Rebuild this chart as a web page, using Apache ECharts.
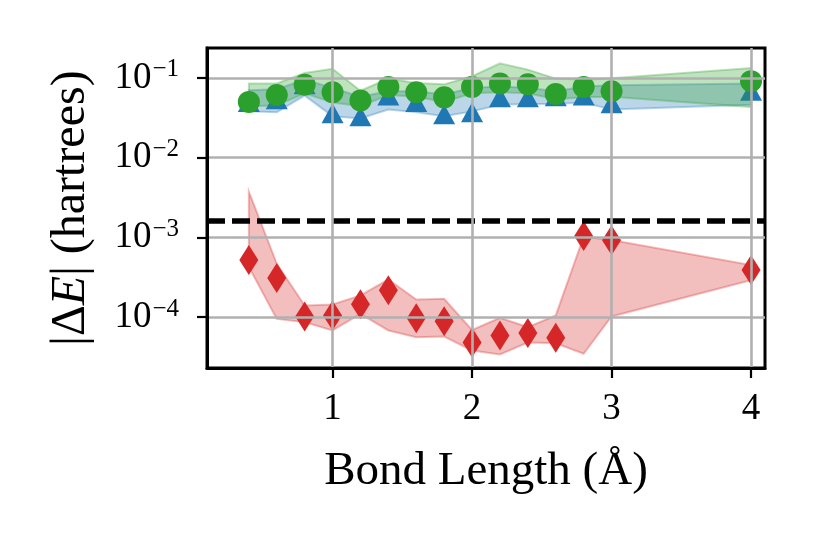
<!DOCTYPE html>
<html>
<head>
<meta charset="utf-8">
<script src="https://cdn.jsdelivr.net/npm/echarts@6/dist/echarts.min.js"></script>
<style>
html, body { margin: 0; padding: 0; background: #fff; }
#main { width: 822px; height: 543px; }
</style>
</head>
<body>
<div id="main"></div>
<script>
// bond lengths (Å)
var bondLength = [0.4, 0.6, 0.8, 1.0, 1.2, 1.4, 1.6, 1.8, 2.0, 2.2, 2.4, 2.6, 2.8, 3.0, 4.0];

// blue triangles
var blueMean = [0.050, 0.054, 0.083, 0.036, 0.033, 0.060, 0.050, 0.035, 0.037, 0.057, 0.057, 0.059, 0.060, 0.048, 0.069];
var blueHigh = [0.070, 0.072, 0.095, 0.075, 0.058, 0.068, 0.068, 0.062, 0.075, 0.078, 0.075, 0.068, 0.078, 0.081, 0.085];
var blueLow = [0.038, 0.037, 0.060, 0.033, 0.031, 0.040, 0.037, 0.033, 0.038, 0.046, 0.047, 0.047, 0.049, 0.040, 0.046];

// green circles
var greenMean = [0.050, 0.061, 0.082, 0.066, 0.052, 0.077, 0.066, 0.057, 0.077, 0.085, 0.083, 0.063, 0.077, 0.068, 0.091];
var greenHigh = [0.085, 0.085, 0.115, 0.130, 0.069, 0.098, 0.086, 0.083, 0.105, 0.152, 0.127, 0.098, 0.095, 0.099, 0.133];
var greenLow = [0.044, 0.045, 0.064, 0.049, 0.044, 0.061, 0.058, 0.050, 0.064, 0.066, 0.064, 0.054, 0.057, 0.058, 0.043];

// red diamonds
var redMean = [5.2e-4, 3.1e-4, 1.02e-4, 1.05e-4, 1.45e-4, 2.17e-4, 9.7e-5, 8.9e-5, 4.8e-5, 5.9e-5, 6.3e-5, 5.5e-5, 1.04e-3, 9.2e-4, 3.9e-4];
var redHigh = [3.75e-3, 4.7e-4, 1.40e-4, 1.44e-4, 1.87e-4, 2.96e-4, 1.66e-4, 1.70e-4, 6.9e-5, 9.8e-5, 7.5e-5, 1.05e-4, 1.02e-3, 9.25e-4, 4.5e-4];
var redLow = [4.26e-4, 9.5e-5, 8.65e-5, 6.8e-5, 1.1e-4, 6.8e-5, 5.6e-5, 5.7e-5, 3.8e-5, 3.4e-5, 4.8e-5, 4.7e-5, 3.47e-5, 1.02e-4, 2.9e-4];

// chemical accuracy line
var threshold = 1.6e-3;

// axis limits and ticks
var xMin = 0.1, xMax = 4.1;
var yMin = 2.3e-5, yMax = 0.237;
var xTicks = [1, 2, 3, 4];
var yTicks = [1e-4, 1e-3, 1e-2, 1e-1];

var font = 'Liberation Serif';

function points(vals) {
    return bondLength.map(function (x, i) { return [x, vals[i]]; });
}

// shaded band between low and high, drawn as one polygon
function band(low, high, color, z) {
    return {
        type: 'custom',
        z: z,
        silent: true,
        clip: true,
        data: bondLength.map(function (x, i) { return [x, low[i], high[i]]; }),
        encode: { x: 0, y: [1, 2] },
        renderItem: function (params, api) {
            if (params.dataIndex !== 0) return;
            var top = bondLength.map(function (x, i) { return api.coord([x, high[i]]); });
            var bot = bondLength.map(function (x, i) { return api.coord([x, low[i]]); }).reverse();
            return {
                type: 'polygon',
                shape: { points: top.concat(bot) },
                style: { fill: color, stroke: color, lineWidth: 2 }
            };
        }
    };
}

function markers(vals, color, symbol, size, z) {
    return {
        type: 'scatter',
        z: z,
        silent: true,
        symbol: symbol,
        symbolSize: size,
        itemStyle: { color: color, opacity: 1 },
        data: points(vals)
    };
}

var myChart = echarts.init(document.getElementById('main'));
var option = {
    animation: false,
    backgroundColor: '#fff',
    grid: {
        left: 207,
        right: 57,
        top: 48,
        bottom: 175,
        show: true,
        borderColor: '#000',
        borderWidth: 3,
        backgroundColor: 'transparent'
    },
    xAxis: {
        type: 'value',
        min: xMin,
        max: xMax,
        z: 3,
        name: 'Bond Length (Å)',
        nameLocation: 'middle',
        nameGap: 80,
        nameTextStyle: { fontFamily: font, fontSize: 47, color: '#000' },
        axisLine: { show: true, onZero: false, lineStyle: { color: '#000', width: 3 } },
        axisTick: { show: true, length: 10, customValues: xTicks, lineStyle: { color: '#000', width: 2.2 } },
        axisLabel: {
            customValues: xTicks,
            margin: 23,
            fontFamily: font,
            fontSize: 37,
            color: '#000',
            formatter: function (v) { return String(v); }
        },
        splitLine: { show: true, lineStyle: { color: '#b0b0b0', width: 2.6 } }
    },
    yAxis: {
        type: 'log',
        logBase: 10,
        min: yMin,
        max: yMax,
        z: 3,
        name: '|Δ{i|E}| (hartrees)',
        nameLocation: 'middle',
        nameGap: 112,
        nameTextStyle: {
            fontFamily: font,
            fontSize: 48,
            color: '#000',
            rich: {
                i: { fontFamily: font, fontSize: 48, color: '#000', fontStyle: 'italic' }
            }
        },
        axisLine: { show: true, lineStyle: { color: '#000', width: 3 } },
        axisTick: { show: true, length: 10, customValues: yTicks, lineStyle: { color: '#000', width: 2.2 } },
        axisLabel: {
            customValues: yTicks,
            margin: 28,
            formatter: function (v) {
                var e = Math.round(Math.log10(v));
                return '{b|10}{s|' + (e < 0 ? '\u2212' : '') + Math.abs(e) + '}';
            },
            rich: {
                b: { fontFamily: font, fontSize: 37, color: '#000' },
                s: { fontFamily: font, fontSize: 25, color: '#000', padding: [0, 0, 16, 1] }
            }
        },
        splitLine: { show: true, lineStyle: { color: '#b0b0b0', width: 2.6 } }
    },
    series: [
        band(blueLow, blueHigh, 'rgba(31,119,180,0.3)', 1),
        markers(blueMean, '#1f77b4', 'triangle', [22, 20], 1.1),
        band(greenLow, greenHigh, 'rgba(44,160,44,0.3)', 1.2),
        markers(greenMean, '#2ca02c', 'circle', 22, 1.3),
        band(redLow, redHigh, 'rgba(214,39,40,0.3)', 1.4),
        markers(redMean, '#d62728', 'diamond', [19, 30], 1.5),
        {
            // dashed threshold across the whole x range
            type: 'line',
            z: 2.5,
            silent: true,
            showSymbol: false,
            symbol: 'none',
            data: [[xMin, threshold], [xMax, threshold]],
            lineStyle: { color: '#000', type: [18, 7], width: 5.5 }
        }
    ]
};
myChart.setOption(option);
</script>
</body>
</html>
